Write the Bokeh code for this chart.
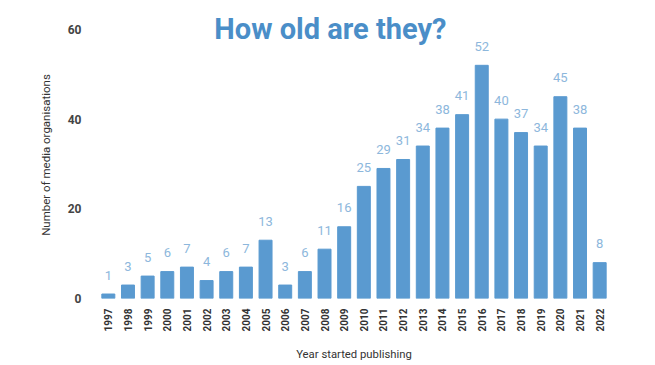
from bokeh.plotting import figure
from bokeh.models import ColumnDataSource, Range1d, Label, FixedTicker
from bokeh.embed import file_html
from bokeh.resources import INLINE
from bokeh.core.properties import value
import math

years = [str(y) for y in range(1997, 2023)]
counts = [1, 3, 5, 6, 7, 4, 6, 7, 13, 3, 6, 11, 16, 25, 29, 31, 34, 38, 41, 52, 40, 37, 34, 45, 38, 8]
title_text = "How old are they?"
x_title = "Year started publishing"
y_title = "Number of media organisations"

BAR = "#5a9ad0"
LAB = "#8db7dc"
TITLE = "#4a8ec8"
FONT = "Roboto"

src = ColumnDataSource(dict(year=years, n=counts, lab=[str(c) for c in counts]))

p = figure(x_range=years, y_range=Range1d(0, 64), width=655, height=365,
           output_backend="svg", toolbar_location=None,
           min_border_left=98, min_border_right=46, min_border_top=11, min_border_bottom=67)
p.outline_line_color = None
p.xgrid.grid_line_color = None
p.ygrid.grid_line_color = None
p.background_fill_color = "white"
p.border_fill_color = "white"

p.vbar(x="year", top="n", width=0.66, source=src, color=BAR)
p.text(x="year", y="n", text="lab", source=src, text_align="center", text_baseline="middle",
       y_offset=-19, text_color=LAB, text_font_size="13px", text_font=value(FONT))

p.add_layout(Label(x=11.8, y=60, text=title_text, text_align="center", text_baseline="middle",
                   text_color=TITLE, text_font_size="29px", text_font_style="bold",
                   text_font=FONT))

p.yaxis.ticker = FixedTicker(ticks=[0, 20, 40, 60])
p.yaxis.axis_line_color = None
p.yaxis.major_tick_line_color = None
p.yaxis.minor_tick_line_color = None
p.yaxis.major_label_standoff = 11
p.yaxis.major_label_text_font = FONT
p.yaxis.major_label_text_font_size = "12px"
p.yaxis.major_label_text_font_style = "bold"
p.yaxis.major_label_text_color = "#444444"
p.yaxis.axis_label = y_title
p.yaxis.axis_label_text_font = FONT
p.yaxis.axis_label_text_font_style = "normal"
p.yaxis.axis_label_text_font_size = "11.5px"
p.yaxis.axis_label_text_color = "#333333"
p.yaxis.axis_label_standoff = 12

p.xaxis.axis_line_color = None
p.xaxis.major_tick_line_color = None
p.xaxis.minor_tick_line_color = None
p.xaxis.major_label_orientation = math.pi / 2
p.xaxis.major_label_standoff = 4
p.xaxis.major_label_text_font = FONT
p.xaxis.major_label_text_font_size = "10px"
p.xaxis.major_label_text_font_style = "bold"
p.xaxis.major_label_text_color = "#333333"
p.xaxis.axis_label = x_title
p.xaxis.axis_label_text_font = FONT
p.xaxis.axis_label_text_font_style = "normal"
p.xaxis.axis_label_text_font_size = "11.3px"
p.xaxis.axis_label_text_color = "#333333"
p.xaxis.axis_label_standoff = 14

open("out.html", "w").write(file_html(p, INLINE))
